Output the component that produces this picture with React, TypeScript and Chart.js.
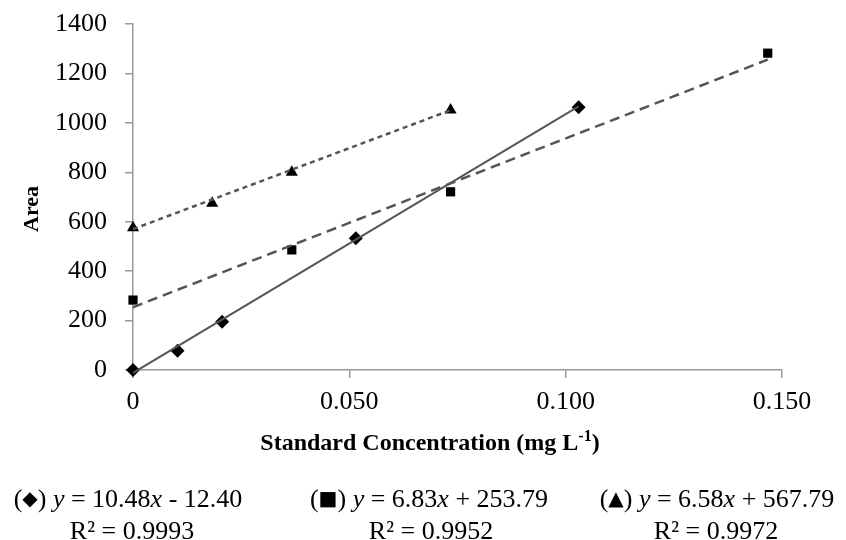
import React, { useEffect, useRef } from "react";
import { Chart, registerables } from "chart.js";
Chart.register(...registerables);

// ---- data ----
const xTickValues = [0, 0.05, 0.1, 0.15];
const xTickLabels = ["0", "0.050", "0.100", "0.150"];
const yTickValues = [0, 200, 400, 600, 800, 1000, 1200, 1400];

const diamondX = [0, 0.0103, 0.0206, 0.0515, 0.103];
const diamondY = [0, 78, 195, 533, 1063];
const squareX = [0, 0.0367, 0.0734, 0.1467];
const squareY = [283, 486, 721, 1282];
const triangleX = [0, 0.0183, 0.0367, 0.0734];
const triangleY = [576, 675, 800, 1052];

const solidFitX = [0, 0.103];
const solidFitY = [-12, 1067];
const dashedFitX = [0, 0.1467];
const dashedFitY = [254, 1256];
const dottedFitX = [0, 0.0734];
const dottedFitY = [570, 1051];

const xTitle = "Standard Concentration (mg L";
const xTitleSup = "-1";
const yTitle = "Area";

const eqSymbols = ["◆", "■", "▲"];
const eqSlopes = ["10.48", "6.83", "6.58"];
const eqIntercepts = ["- 12.40", "+ 253.79", "+ 567.79"];
const eqR2 = ["0.9993", "0.9952", "0.9972"];

const pts = (xs: number[], ys: number[]) => xs.map((x, i) => ({ x, y: ys[i] }));

const SERIF = "'Liberation Serif', 'Times New Roman', serif";

type Run = { t: string; f: string; dy?: number };
function drawRuns(ctx: CanvasRenderingContext2D, runs: Run[], cx: number, base: number) {
  let total = 0;
  for (const r of runs) {
    ctx.font = r.f;
    total += ctx.measureText(r.t).width;
  }
  let x = cx - total / 2;
  ctx.textAlign = "left";
  ctx.textBaseline = "alphabetic";
  for (const r of runs) {
    ctx.font = r.f;
    ctx.fillText(r.t, x, base + (r.dy || 0));
    x += ctx.measureText(r.t).width;
  }
}

const textPlugin = {
  id: "textPlugin",
  afterDraw(chart: any) {
    const ctx: CanvasRenderingContext2D = chart.ctx;
    ctx.save();
    ctx.fillStyle = "#000";
    // y title
    ctx.save();
    ctx.translate(32, 209);
    ctx.rotate(-Math.PI / 2);
    ctx.font = `bold 22px ${SERIF}`;
    ctx.textAlign = "center";
    ctx.textBaseline = "middle";
    ctx.fillText(yTitle, 0, 0);
    ctx.restore();
    // x title
    drawRuns(
      ctx,
      [
        { t: xTitle, f: `bold 24px ${SERIF}` },
        { t: xTitleSup, f: `bold 16px ${SERIF}`, dy: -9 },
        { t: ")", f: `bold 24px ${SERIF}` },
      ],
      430,
      450
    );
    // equations
    const centers = [128, 429, 717];
    const r2centers = [132, 431, 716];
    const nf = `26px ${SERIF}`;
    const itf = `italic 26px ${SERIF}`;
    for (let i = 0; i < 3; i++) {
      drawRuns(
        ctx,
        [
          { t: "(", f: nf },
          { t: eqSymbols[i], f: `20px 'DejaVu Sans', sans-serif`, dy: -2 },
          { t: ")", f: nf },
          { t: " y", f: itf },
          { t: " = " + eqSlopes[i], f: nf },
          { t: "x", f: itf },
          { t: " " + eqIntercepts[i], f: nf },
        ],
        centers[i],
        507
      );
      drawRuns(ctx, [{ t: "R² = " + eqR2[i], f: nf }], r2centers[i], 539);
    }
    ctx.restore();
  },
};

export default function App() {
  const ref = useRef<HTMLCanvasElement | null>(null);
  useEffect(() => {
    if (!ref.current) return;
    const fitColor = "#555555";
    const chart = new Chart(ref.current, {
      type: "scatter",
      data: {
        datasets: [
          {
            label: "fit1",
            data: pts(solidFitX, solidFitY),
            showLine: true,
            borderColor: fitColor,
            borderWidth: 2,
            pointRadius: 0,
            clip: false as any,
          },
          {
            label: "fit2",
            data: pts(dashedFitX, dashedFitY),
            showLine: true,
            borderColor: fitColor,
            borderWidth: 2.5,
            borderDash: [10, 6],
            pointRadius: 0,
          },
          {
            label: "fit3",
            data: pts(dottedFitX, dottedFitY),
            showLine: true,
            borderColor: fitColor,
            borderWidth: 2.5,
            borderDash: [5, 4],
            pointRadius: 0,
          },
          {
            label: "diamond",
            data: pts(diamondX, diamondY),
            pointStyle: "rectRot",
            pointRadius: 7,
            backgroundColor: "#000",
            borderColor: "#000",
            borderWidth: 0,
            clip: false as any,
          },
          {
            label: "square",
            data: pts(squareX, squareY),
            pointStyle: "rect",
            pointRadius: 6.5,
            backgroundColor: "#000",
            borderColor: "#000",
            borderWidth: 0,
            clip: false as any,
          },
          {
            label: "triangle",
            data: pts(triangleX, triangleY),
            pointStyle: "triangle",
            pointRadius: 7,
            backgroundColor: "#000",
            borderColor: "#000",
            borderWidth: 0,
            clip: false as any,
          },
        ],
      },
      options: {
        animation: false,
        responsive: false,
        maintainAspectRatio: false,
        layout: { padding: { left: 0, top: 24, right: 64, bottom: 0 } },
        plugins: { legend: { display: false }, tooltip: { enabled: false } },
        scales: {
          x: {
            type: "linear",
            min: 0,
            max: 0.15,
            afterBuildTicks: (s: any) => {
              s.ticks = xTickValues.map((v) => ({ value: v }));
            },
            afterFit: (s: any) => {
              s.height = 170;
              s.paddingLeft = 0;
              s.paddingRight = 0;
            },
            ticks: {
              color: "#000",
              font: { family: SERIF, size: 26 },
              padding: 9,
              maxRotation: 0,
              callback: (v: any) => {
                const i = xTickValues.findIndex((t) => Math.abs(t - v) < 1e-9);
                return i >= 0 ? xTickLabels[i] : "";
              },
            },
            grid: { display: true, drawOnChartArea: false, drawTicks: true, tickLength: 8, color: "#999", lineWidth: 1.5 },
            border: { display: true, color: "#999", width: 1.5 },
          },
          y: {
            type: "linear",
            min: 0,
            max: 1400,
            afterBuildTicks: (s: any) => {
              s.ticks = yTickValues.map((v) => ({ value: v }));
            },
            afterFit: (s: any) => {
              s.width = 133;
              s.paddingTop = 0;
              s.paddingBottom = 0;
            },
            ticks: {
              color: "#000",
              font: { family: SERIF, size: 26 },
              padding: 18,
              callback: (v: any) => String(v),
            },
            grid: { display: true, drawOnChartArea: false, drawTicks: true, tickLength: 8, color: "#999", lineWidth: 1.5 },
            border: { display: true, color: "#999", width: 1.5 },
          },
        },
      },
      plugins: [textPlugin],
    });
    return () => chart.destroy();
  }, []);
  return (
    <div style={{ position: "fixed", left: 0, top: 0, width: 846, height: 540, background: "#fff" }}>
      <canvas ref={ref} width={846} height={540} style={{ width: 846, height: 540, display: "block" }} />
    </div>
  );
}
